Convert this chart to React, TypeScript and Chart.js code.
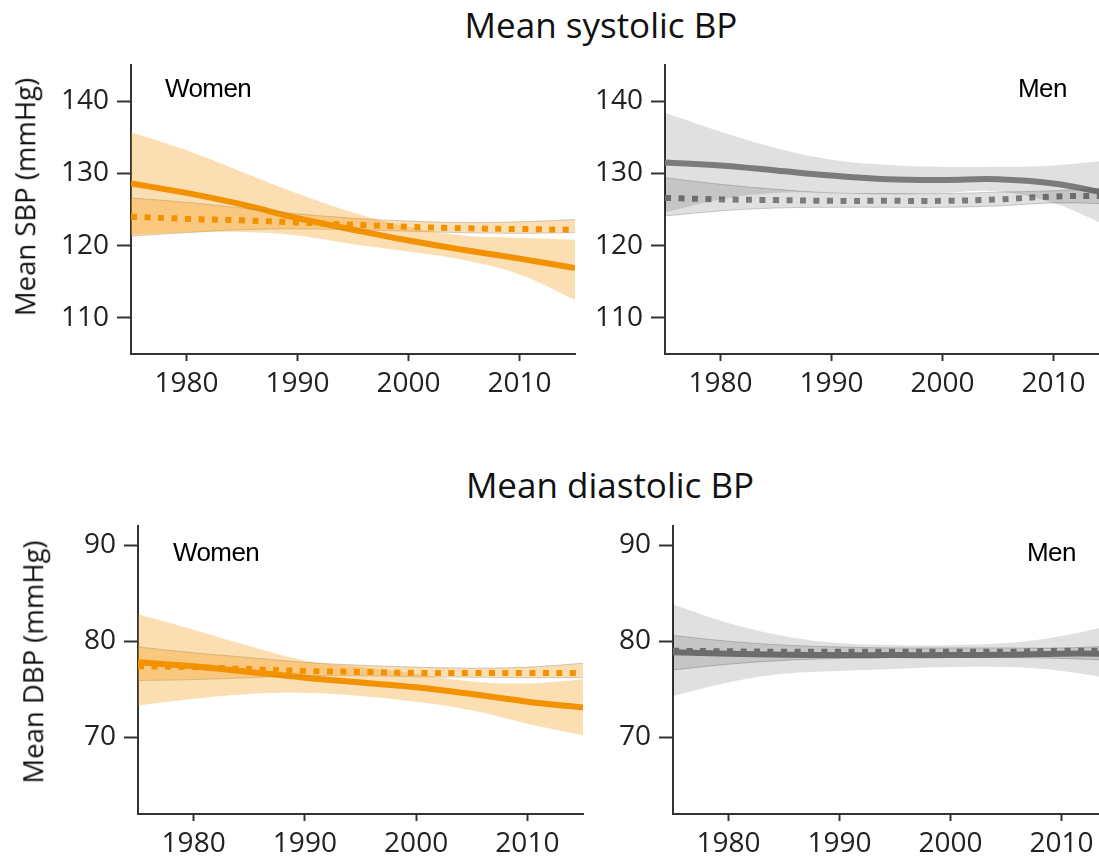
import React, { useEffect, useRef } from "react";
import { Chart, registerables } from "chart.js";

Chart.register(...registerables);

// ---------- data ----------
const years = [1975, 1980, 1985, 1990, 1995, 2000, 2005, 2010, 2015];
const yearTicks = [1980, 1990, 2000, 2010];
const sbpTicks = [110, 120, 130, 140];
const dbpTicks = [70, 80, 90];

// Women, systolic
const womenSbpSolid = [128.6, 127.3, 125.7, 123.8, 122.2, 120.7, 119.4, 118.2, 116.9];
const womenSbpSolidUpper = [135.7, 133.2, 130.2, 127.2, 124.6, 122.6, 121.4, 121.1, 120.8];
const womenSbpSolidLower = [121.5, 121.8, 121.9, 121.4, 120.2, 119.2, 118.0, 116.0, 112.5];
const womenSbpDotted = [124.0, 123.7, 123.5, 123.2, 122.9, 122.6, 122.4, 122.3, 122.2];
const womenSbpDottedUpper = [126.6, 126.0, 125.2, 124.4, 123.8, 123.4, 123.2, 123.3, 123.6];
const womenSbpDottedLower = [121.3, 121.8, 122.2, 122.3, 122.2, 122.0, 121.8, 121.7, 121.8];

// Men, systolic
const menSbpSolid = [131.5, 131.1, 130.4, 129.7, 129.2, 129.1, 129.2, 128.6, 127.2];
const menSbpSolidUpper = [138.4, 135.8, 133.5, 131.9, 131.2, 130.9, 130.9, 131.1, 131.8];
const menSbpSolidLower = [124.6, 126.4, 127.3, 127.3, 127.1, 127.3, 127.5, 125.9, 122.6];
const menSbpDotted = [126.6, 126.4, 126.3, 126.2, 126.2, 126.2, 126.4, 126.8, 126.9];
const menSbpDottedUpper = [129.4, 128.5, 127.8, 127.3, 127.2, 127.2, 127.4, 127.6, 128.0];
const menSbpDottedLower = [124.1, 124.8, 125.2, 125.3, 125.3, 125.3, 125.5, 125.9, 125.8];

// Women, diastolic
const womenDbpSolid = [77.8, 77.4, 76.8, 76.2, 75.7, 75.2, 74.5, 73.7, 73.1];
const womenDbpSolidUpper = [82.8, 81.2, 79.5, 78.0, 77.3, 76.6, 75.8, 75.6, 76.0];
const womenDbpSolidLower = [73.3, 74.0, 74.5, 74.6, 74.3, 73.7, 72.8, 71.4, 70.2];
const womenDbpDotted = [77.4, 77.3, 77.1, 76.9, 76.8, 76.7, 76.7, 76.7, 76.7];
const womenDbpDottedUpper = [79.4, 78.8, 78.3, 77.8, 77.5, 77.3, 77.2, 77.3, 77.7];
const womenDbpDottedLower = [75.9, 76.0, 76.2, 76.4, 76.4, 76.3, 76.25, 76.2, 76.2];

// Men, diastolic
const menDbpSolid = [78.85, 78.7, 78.6, 78.55, 78.55, 78.55, 78.6, 78.7, 78.7];
const menDbpSolidUpper = [83.85, 81.9, 80.55, 79.8, 79.6, 79.6, 79.8, 80.55, 81.8];
const menDbpSolidLower = [74.3, 75.7, 76.6, 76.9, 77.1, 77.3, 77.3, 76.9, 76.0];
const menDbpDotted = [79.0, 78.95, 78.9, 78.9, 78.9, 78.9, 78.9, 79.0, 79.0];
const menDbpDottedUpper = [80.6, 80.0, 79.6, 79.4, 79.3, 79.3, 79.3, 79.3, 79.5];
const menDbpDottedLower = [77.0, 77.6, 78.0, 78.2, 78.3, 78.3, 78.3, 78.2, 78.0];

// ---------- styles ----------
const ORANGE = "#F39200";
const ORANGE_BAND = "rgba(243,146,0,0.30)";
const GREY = "#8C8C8C";
const GREY_BAND = "rgba(0,0,0,0.12)";
const EDGE = "rgba(120,120,120,0.35)";
const AXIS = "#333333";
const FONT = "'Open Sans', sans-serif";

type PanelSpec = {
  left: number; top: number; width: number; height: number;
  yAxisW: number; xAxisH: number; padTop: number; padRight: number; xPad: number;
  yMin: number; yMax: number; yTicks: number[];
  line: string; band: string;
  solid: number[]; solidUpper: number[]; solidLower: number[];
  dotted: number[]; dottedUpper: number[]; dottedLower: number[];
};

const pts = (arr: number[]) => years.map((x, i) => ({ x, y: arr[i] }));

function Panel({ spec }: { spec: PanelSpec }) {
  const ref = useRef<HTMLCanvasElement | null>(null);
  useEffect(() => {
    if (!ref.current) return;
    const common = { pointRadius: 0, tension: 0.4 };
    const chart = new Chart(ref.current, {
      type: "line",
      data: {
        datasets: [
          { ...common, data: pts(spec.solidUpper), fill: "+1", backgroundColor: spec.band, borderColor: "rgba(0,0,0,0)", borderWidth: 1 },
          { ...common, data: pts(spec.solidLower), fill: false, borderColor: "rgba(0,0,0,0)", borderWidth: 1 },
          { ...common, data: pts(spec.dottedUpper), fill: "+1", backgroundColor: spec.band, borderColor: EDGE, borderWidth: 1 },
          { ...common, data: pts(spec.dottedLower), fill: false, borderColor: EDGE, borderWidth: 1 },
          { ...common, data: pts(spec.solid), fill: false, borderColor: spec.line, borderWidth: 6, borderCapStyle: "butt" },
          { ...common, data: pts(spec.dotted), fill: false, borderColor: spec.line, borderWidth: 6, borderDash: [6, 7.5], borderCapStyle: "butt" },
        ] as any,
      },
      options: {
        animation: false,
        responsive: false,
        devicePixelRatio: 1,
        events: [],
        layout: { padding: { top: spec.padTop, right: spec.padRight, left: 0, bottom: 0 } },
        plugins: { legend: { display: false }, tooltip: { enabled: false }, title: { display: false } },
        scales: {
          x: {
            type: "linear",
            min: 1975,
            max: 2015,
            afterBuildTicks: (a: any) => { a.ticks = yearTicks.map((v) => ({ value: v })); },
            afterFit: (a: any) => { a.height = spec.xAxisH; a.paddingLeft = 0; a.paddingRight = 0; },
            grid: { display: true, drawOnChartArea: false, drawTicks: true, tickLength: 7, tickWidth: 2, tickColor: AXIS, color: AXIS },
            border: { display: true, color: AXIS, width: 2 },
            ticks: { font: { family: FONT, size: 28 }, color: "#222", padding: spec.xPad, maxRotation: 0, autoSkip: false, callback: (v: any) => String(v) },
          },
          y: {
            type: "linear",
            min: spec.yMin,
            max: spec.yMax,
            afterBuildTicks: (a: any) => { a.ticks = spec.yTicks.map((v) => ({ value: v })); },
            afterFit: (a: any) => { a.width = spec.yAxisW; a.paddingTop = 0; a.paddingBottom = 0; },
            grid: { display: true, drawOnChartArea: false, drawTicks: true, tickLength: 14, tickWidth: 2, tickColor: AXIS, color: AXIS },
            border: { display: true, color: AXIS, width: 2 },
            ticks: { font: { family: FONT, size: 28 }, color: "#222", padding: 8, autoSkip: false, callback: (v: any) => String(v) },
          },
        },
      } as any,
    });
    let alive = true;
    if ((document as any).fonts && (document as any).fonts.ready) {
      (document as any).fonts.ready.then(() => { if (alive) chart.update(); });
    }
    return () => { alive = false; chart.destroy(); };
  }, [spec]);
  return (
    <canvas
      ref={ref}
      width={spec.width}
      height={spec.height}
      style={{ position: "absolute", left: spec.left, top: spec.top, width: spec.width, height: spec.height }}
    />
  );
}

const panels: PanelSpec[] = [
  {
    left: 0, top: 55, width: 590, height: 360, yAxisW: 131, xAxisH: 61, padTop: 10, padRight: 15, xPad: 6,
    yMin: 105, yMax: 145, yTicks: sbpTicks, line: ORANGE, band: ORANGE_BAND,
    solid: womenSbpSolid, solidUpper: womenSbpSolidUpper, solidLower: womenSbpSolidLower,
    dotted: womenSbpDotted, dottedUpper: womenSbpDottedUpper, dottedLower: womenSbpDottedLower,
  },
  {
    left: 575, top: 55, width: 549, height: 360, yAxisW: 90, xAxisH: 61, padTop: 10, padRight: 15, xPad: 6,
    yMin: 105, yMax: 145, yTicks: sbpTicks, line: GREY, band: GREY_BAND,
    solid: menSbpSolid, solidUpper: menSbpSolidUpper, solidLower: menSbpSolidLower,
    dotted: menSbpDotted, dottedUpper: menSbpDottedUpper, dottedLower: menSbpDottedLower,
  },
  {
    left: 0, top: 516, width: 598, height: 342, yAxisW: 138, xAxisH: 44, padTop: 10, padRight: 15, xPad: 6,
    yMin: 62, yMax: 92, yTicks: dbpTicks, line: ORANGE, band: ORANGE_BAND,
    solid: womenDbpSolid, solidUpper: womenDbpSolidUpper, solidLower: womenDbpSolidLower,
    dotted: womenDbpDotted, dottedUpper: womenDbpDottedUpper, dottedLower: womenDbpDottedLower,
  },
  {
    left: 583, top: 516, width: 549, height: 342, yAxisW: 90, xAxisH: 44, padTop: 10, padRight: 15, xPad: 6,
    yMin: 62, yMax: 92, yTicks: dbpTicks, line: GREY, band: GREY_BAND,
    solid: menDbpSolid, solidUpper: menDbpSolidUpper, solidLower: menDbpSolidLower,
    dotted: menDbpDotted, dottedUpper: menDbpDottedUpper, dottedLower: menDbpDottedLower,
  },
];

const titleStyle: React.CSSProperties = {
  position: "absolute", width: 600, textAlign: "center", fontFamily: FONT,
  fontSize: 35, lineHeight: "35px", color: "#111", whiteSpace: "nowrap",
};
const yLabelStyle: React.CSSProperties = {
  position: "absolute", fontFamily: FONT, fontSize: 27.5, lineHeight: "27.5px", color: "#111",
  whiteSpace: "nowrap", transform: "translate(-50%, -50%) rotate(-90deg)",
};
const sexStyle: React.CSSProperties = {
  position: "absolute", fontFamily: "'Liberation Sans', Arial, sans-serif", fontSize: 26,
  lineHeight: "26px", letterSpacing: "-0.6px", color: "#000", whiteSpace: "nowrap",
};

export default function App() {
  return (
    <div style={{ position: "absolute", left: 0, top: 0, width: 1099, height: 858, overflow: "hidden", background: "#fff" }}>
      {panels.map((p, i) => <Panel key={i} spec={p} />)}
      <div style={{ ...titleStyle, left: 301, top: 7 }}>Mean systolic BP</div>
      <div style={{ ...titleStyle, left: 310, top: 467 }}>Mean diastolic BP</div>
      <div style={{ ...yLabelStyle, left: 24.5, top: 197 }}>Mean SBP (mmHg)</div>
      <div style={{ ...yLabelStyle, left: 32.5, top: 662 }}>Mean DBP (mmHg)</div>
      <div style={{ ...sexStyle, left: 165, top: 75 }}>Women</div>
      <div style={{ ...sexStyle, left: 1018, top: 75 }}>Men</div>
      <div style={{ ...sexStyle, left: 173, top: 539 }}>Women</div>
      <div style={{ ...sexStyle, left: 1027, top: 539 }}>Men</div>
    </div>
  );
}
